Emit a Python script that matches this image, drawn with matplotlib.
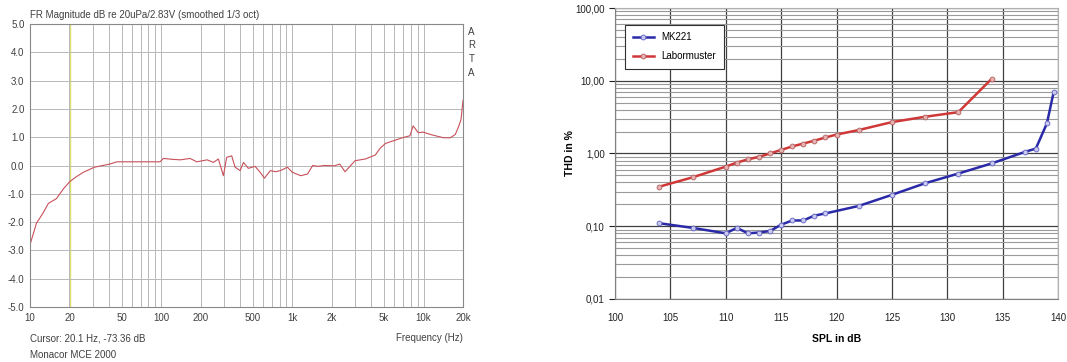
import numpy as np
import matplotlib
matplotlib.use("Agg")
import matplotlib.pyplot as plt
from matplotlib.ticker import LogLocator, NullFormatter

plt.rcParams['font.family'] = ['Liberation Sans', 'DejaVu Sans']

# --- left chart: ARTA frequency response (smoothed 1/3 oct) ---
fr_freq = [10, 11.2, 12.5, 13.8, 15.9, 18.0, 20.2, 22.5, 25.5, 31, 40.5, 45.8, 60, 80, 97.9,
           104, 120, 140, 166, 187, 224, 250, 273, 298, 316, 345, 366, 400, 424, 462,
           520, 569, 612, 679, 744, 813, 917, 1000, 1160, 1306, 1430, 1565, 1760, 2100,
           2300, 2520, 3010, 3600, 4290, 4650, 5130, 5860, 7000, 7870, 8340, 9110, 9950,
           11200, 12600, 14200, 16000, 17500, 18600, 19300, 20000]
fr_db = [-2.8, -2.04, -1.7, -1.34, -1.17, -0.82, -0.56, -0.4, -0.24, -0.06, 0.05, 0.13, 0.13, 0.13, 0.13,
         0.25, 0.22, 0.2, 0.25, 0.13, 0.2, 0.11, 0.23, -0.36, 0.29, 0.34, -0.06, -0.18, 0.11, -0.1,
         -0.03, -0.24, -0.45, -0.18, -0.22, -0.18, -0.06, -0.24, -0.36, -0.3, 0.0, -0.03, 0.0, -0.01,
         0.05, -0.22, 0.17, 0.23, 0.37, 0.6, 0.78, 0.87, 0.99, 1.05, 1.4, 1.16, 1.18,
         1.1, 1.04, 0.98, 0.98, 1.1, 1.4, 1.62, 2.3]

fr_xticks = [10, 20, 50, 100, 200, 500, 1000, 2000, 5000, 10000, 20000]
fr_xlabels = ['10', '20', '50', '100', '200', '500', '1k', '2k', '5k', '10k', '20k']
fr_yticks = [5, 4, 3, 2, 1, 0, -1, -2, -3, -4, -5]

# --- right chart: THD vs SPL ---
mk221_spl = [104, 107, 110, 111, 112, 113, 114, 115, 116, 117, 118, 119, 122, 125, 128, 131, 134, 137, 138, 139, 139.6]
mk221_thd = [0.11, 0.095, 0.08, 0.095, 0.08, 0.082, 0.086, 0.105, 0.12, 0.12, 0.14, 0.15, 0.19, 0.27, 0.39, 0.53, 0.73, 1.05, 1.17, 2.6, 6.9]

labor_spl = [104, 107, 110, 111, 112, 113, 114, 115, 116, 117, 118, 119, 120, 122, 125, 128, 131, 134]
labor_thd = [0.35, 0.47, 0.66, 0.75, 0.83, 0.9, 1.0, 1.12, 1.25, 1.37, 1.5, 1.66, 1.82, 2.1, 2.7, 3.2, 3.7, 10.6]

fig = plt.figure(figsize=(10.67, 3.62), dpi=100)

# ---------------- left ----------------
ax1 = fig.add_axes([30/1067, 1-307/362, 433/1067, 283/362])
ax1.semilogx(fr_freq, fr_db, color='#c8505a', lw=0.8)
ax1.axvline(20.1, color='#e0e070', lw=1.0, zorder=1)
ax1.set_xlim(10, 20000)
ax1.set_ylim(-5, 5)
ax1.xaxis.set_minor_locator(LogLocator(base=10, subs=np.arange(2, 10)))
ax1.xaxis.set_minor_formatter(NullFormatter())
ax1.set_xticks(fr_xticks)
ax1.set_xticklabels(fr_xlabels)
ax1.set_yticks(fr_yticks)
ax1.set_yticklabels(['%.1f' % v for v in fr_yticks])
ax1.grid(True, which='both', axis='x', color='#b8b8b8', lw=0.7)
ax1.grid(True, which='major', axis='y', color='#b8b8b8', lw=0.7)
ax1.tick_params(which='both', length=0, labelsize=7, colors='#404040', pad=4)
for s in ax1.spines.values():
    s.set_color('#888888')
    s.set_linewidth(0.8)
ax1.text(0.0, 1.015, 'FR Magnitude dB re 20uPa/2.83V (smoothed 1/3 oct)', transform=ax1.transAxes,
         fontsize=7, color='#404040', ha='left', va='bottom')
ax1.text(1.02, 0.99, 'A\nR\nT\nA', transform=ax1.transAxes, fontsize=7, color='#404040',
         ha='center', va='top', linespacing=1.45)
ax1.text(0.0, -0.11, 'Cursor: 20.1 Hz, -73.36 dB', transform=ax1.transAxes, fontsize=7,
         color='#404040', ha='left', va='center')
ax1.text(0.0, -0.17, 'Monacor MCE 2000', transform=ax1.transAxes, fontsize=7,
         color='#404040', ha='left', va='center')
ax1.text(1.0, -0.11, 'Frequency (Hz)', transform=ax1.transAxes, fontsize=7,
         color='#404040', ha='right', va='center')

# ---------------- right ----------------
ax2 = fig.add_axes([615/1067, 1-299/362, 443/1067, 291/362])
ax2.semilogy(mk221_spl, mk221_thd, color='#2a2aa8', lw=1.8, marker='o', ms=3.5,
             mfc='#c8c8f0', mec='#6060c0', mew=0.6, label='MK221')
ax2.semilogy(labor_spl, labor_thd, color='#d03838', lw=1.8, marker='o', ms=3.5,
             mfc='#e8b0b0', mec='#b06060', mew=0.6, label='Labormuster')
ax2.set_xlim(100, 140)
ax2.set_ylim(0.01, 100)
ax2.set_xticks(np.arange(100, 141, 5))
ax2.set_yticks([0.01, 0.1, 1, 10, 100])
ax2.set_yticklabels(['0,01', '0,10', '1,00', '10,00', '100,00'])
ax2.yaxis.set_minor_locator(LogLocator(base=10, subs=np.arange(2, 10)))
ax2.yaxis.set_minor_formatter(NullFormatter())
ax2.grid(True, which='major', color='#404040', lw=0.9)
ax2.grid(True, which='minor', axis='y', color='#9a9a9a', lw=0.8)
ax2.set_axisbelow(True)
ax2.tick_params(axis='y', which='major', length=4, direction='out', labelsize=7, colors='#202020')
ax2.tick_params(axis='y', which='minor', length=0)
ax2.tick_params(axis='x', length=0, labelsize=7, colors='#202020', pad=10)
for s in ['top', 'right']:
    ax2.spines[s].set_color('#b0b0b0')
for s in ['left', 'bottom']:
    ax2.spines[s].set_color('#808080')
ax2.set_xlabel('SPL in dB', fontsize=7.5, fontweight='bold', labelpad=8)
ax2.set_ylabel('THD in %', fontsize=7.5, fontweight='bold', labelpad=0)
leg = ax2.legend(loc='upper left', bbox_to_anchor=(0.011, 0.96), fontsize=7, frameon=True,
                 fancybox=False, framealpha=1, edgecolor='#303030', borderpad=0.8,
                 labelspacing=0.9, handlelength=2.2)
leg.get_frame().set_linewidth(0.8)

fig.savefig('out.png', dpi=100)
